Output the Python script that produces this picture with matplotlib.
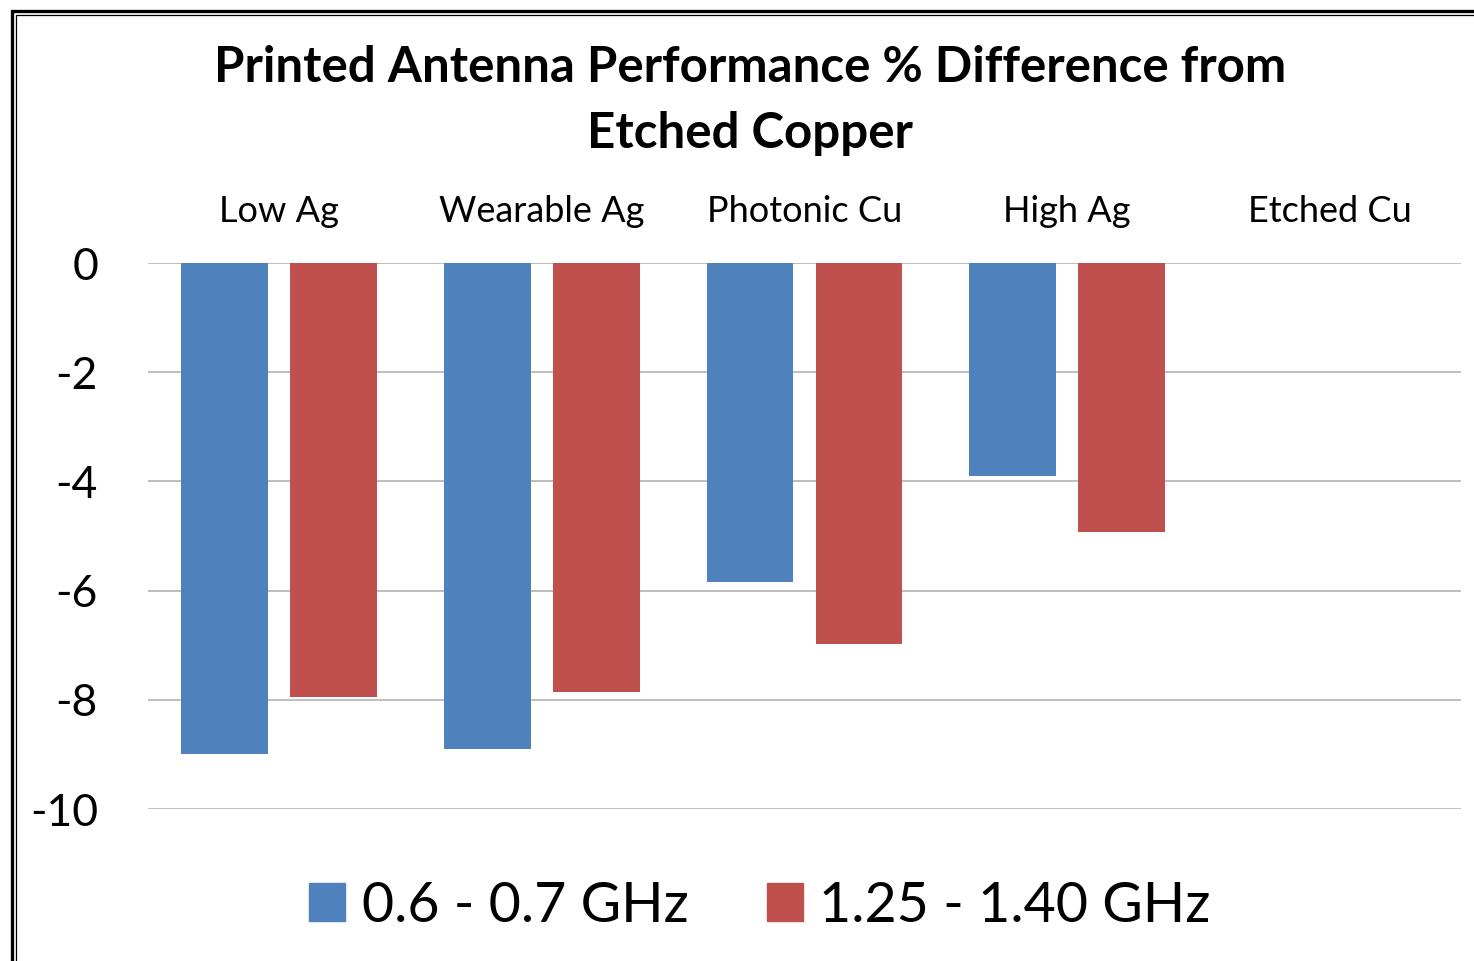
import matplotlib
matplotlib.use("Agg")
import matplotlib.pyplot as plt
import numpy as np
from matplotlib.patches import Rectangle, Patch

plt.rcParams['font.family'] = ['Lato', 'DejaVu Sans']

categories = ["Low Ag", "Wearable Ag", "Photonic Cu", "High Ag", "Etched Cu"]
low_band = [-9.0, -8.9, -5.85, -3.9, 0.0]
high_band = [-7.95, -7.85, -6.97, -4.93, 0.0]
series_names = ["0.6 - 0.7 GHz", "1.25 - 1.40 GHz"]
blue = "#4f81bd"
red = "#c0504d"

fig = plt.figure(figsize=(14.74, 9.61), dpi=100)
ax = fig.add_axes([148/1474, 1-809/961, (1461-148)/1474, (809-263)/961])

x = np.arange(len(categories))
w = 0.33
ax.bar(x-0.2075, low_band, w, color=blue, zorder=3)
ax.bar(x+0.2075, high_band, w, color=red, zorder=3)

ax.set_xlim(-0.5, len(categories)-0.5)
ax.set_ylim(-10, 0)
ax.set_yticks([0, -2, -4, -6, -8, -10])
ax.set_yticklabels(["0", "-2", "-4", "-6", "-8", "-10"], fontsize=32)
ax.yaxis.grid(True, color="#b3b3b3", linewidth=1.2, zorder=0)
ax.tick_params(axis="y", length=0, pad=36)
ax.xaxis.tick_top()
ax.set_xticks(x)
ax.set_xticklabels(categories, fontsize=26)
ax.tick_params(axis="x", length=0, pad=25)
for s in ax.spines.values():
    s.set_visible(False)

fig.text(750/1474, 1-68/961, "Printed Antenna Performance % Difference from",
         ha="center", va="center", fontsize=35.5, fontweight="bold")
fig.text(750/1474, 1-133/961, "Etched Copper",
         ha="center", va="center", fontsize=35.5, fontweight="bold")

handles = [Patch(color=blue), Patch(color=red)]
fig.legend(handles, series_names, loc="center", bbox_to_anchor=(760/1474, 1-906/961),
           ncol=2, frameon=False, fontsize=40, handlelength=0.65, handleheight=0.65,
           handletextpad=0.3, columnspacing=1.4)

# double frame, cut off at right and bottom
fig.patches.append(Rectangle((11.5/1474, -0.1), 1.2, 1-11.5/961+0.1, transform=fig.transFigure,
                             fill=False, edgecolor="black", linewidth=2.4))
fig.patches.append(Rectangle((15.5/1474, -0.1), 1.2, 1-15.5/961+0.1, transform=fig.transFigure,
                             fill=False, edgecolor="black", linewidth=0.9))

fig.savefig("out.png", dpi=100)
